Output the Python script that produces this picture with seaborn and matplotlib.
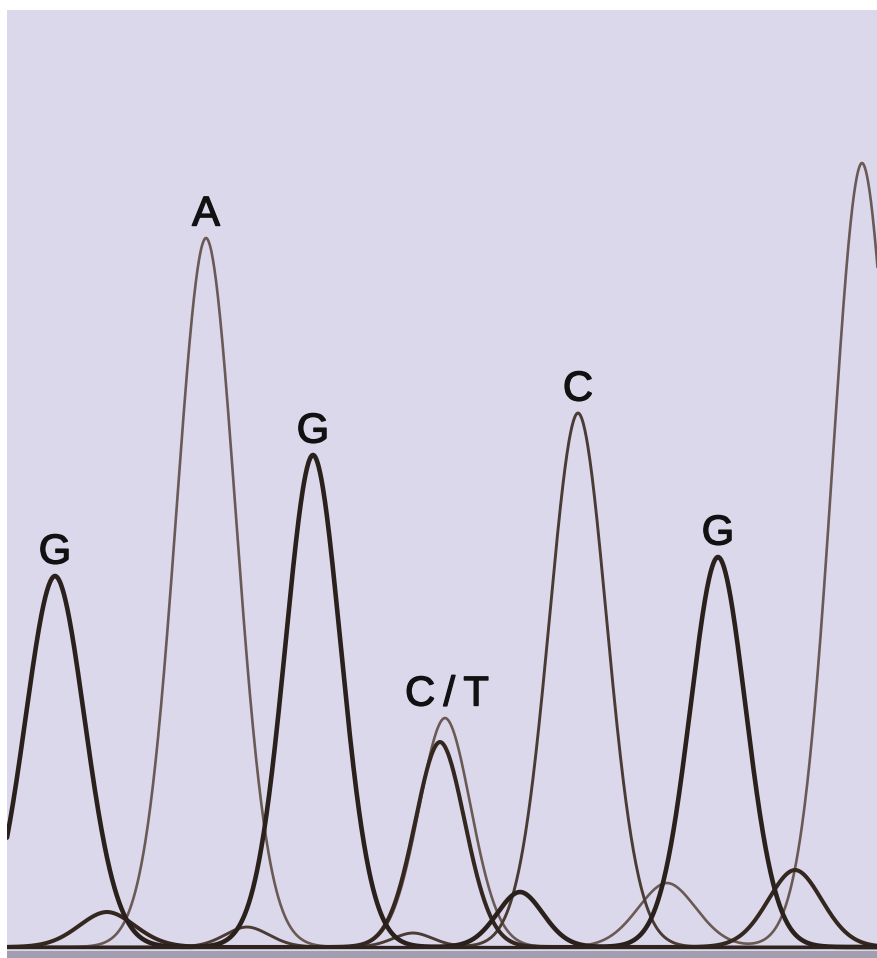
"""
Sanger sequencing trace around a C/T site, redrawn with seaborn.
Saves out.png (877x958 px).
"""

import numpy as np
import pandas as pd
import matplotlib
matplotlib.use('Agg')
import matplotlib.pyplot as plt
import matplotlib.patheffects as pe
import seaborn as sns

# ── peak calls (scan position, height, width) ─────────────────────────────────
G_POS    = [55, 313, 520, 718]
G_HEIGHT = [371, 492, 55, 390]
G_WIDTH  = [30, 28, 23, 28]

T_POS    = [107, 440, 795]
T_HEIGHT = [35, 205, 77]
T_WIDTH  = [28, 25, 27]

C_POS    = [247, 413, 578]
C_HEIGHT = [20, 14, 534]
C_WIDTH  = [22, 20, 29]

A_POS    = [206, 445, 667, 862]
A_HEIGHT = [709, 229, 64, 784]
A_WIDTH  = [30, 26, 29, 30]

# base calls printed above the peaks
CALL_TEXT = ['G', 'A', 'G', 'C\u2009/\u2009T', 'C', 'G']
CALL_POS  = [55, 206, 313, 447, 578, 718]
CALL_PEAK = [371, 709, 492, 229, 534, 390]

SCAN_START, SCAN_END = 7, 877


def trace(pos, height, width, scan):
    """Sum of peak shapes for one dye channel (slightly pointed tops)."""
    y = np.zeros_like(scan, dtype=float)
    for p, h, w in zip(pos, height, width):
        y += h * np.exp(-0.5 * np.abs((scan - p) / w) ** 1.9)
    return y


def main():
    scan = np.arange(SCAN_START, SCAN_END + 1, 0.5)

    channels = {
        'A': (A_POS, A_HEIGHT, A_WIDTH),
        'C': (C_POS, C_HEIGHT, C_WIDTH),
        'T': (T_POS, T_HEIGHT, T_WIDTH),
        'G': (G_POS, G_HEIGHT, G_WIDTH),
    }
    frames = []
    for name, (p, h, w) in channels.items():
        frames.append(pd.DataFrame({'scan': scan,
                                    'signal': trace(p, h, w, scan),
                                    'dye': name}))
    df = pd.concat(frames, ignore_index=True)

    # grey-scale print look: G heavy black, T dark, C medium, A light
    styles = {
        'A': dict(color='#6a5a55', lw=1.9),
        'C': dict(color='#4a3b35', lw=2.1),
        'T': dict(color='#33271f', lw=2.9),
        'G': dict(color='#2a201c', lw=3.3),
    }

    sns.set_style('white')
    plt.rcParams['font.family'] = ['Liberation Sans', 'DejaVu Sans']

    fig = plt.figure(figsize=(8.77, 9.58), dpi=100)
    ax = fig.add_axes([SCAN_START / 877, 0, 1 - SCAN_START / 877, 948 / 958])
    ax.set_facecolor('#dcd8eb')

    for name in ['A', 'C', 'T', 'G']:
        sub = df[df['dye'] == name]
        sns.lineplot(data=sub, x='scan', y='signal', ax=ax,
                     color=styles[name]['color'], linewidth=styles[name]['lw'],
                     solid_joinstyle='round', legend=False)

    # baseline and the strip under it
    ax.axhline(0, color='#2e231e', lw=2.4, zorder=3)
    ax.axhspan(-11, -4, color='#a39db0', lw=0, zorder=4)

    for txt, x, h in zip(CALL_TEXT, CALL_POS, CALL_PEAK):
        t = ax.annotate(txt, xy=(x, h), xytext=(0, 9), textcoords='offset points',
                        ha='center', va='baseline', fontsize=30, color='#111111')
        t.set_path_effects([pe.withStroke(linewidth=1.0, foreground='#111111')])

    ax.set_xlim(SCAN_START, SCAN_END)
    ax.set_ylim(-11, 937)
    ax.set_xlabel('')
    ax.set_ylabel('')
    ax.set_xticks([])
    ax.set_yticks([])
    for s in ax.spines.values():
        s.set_visible(False)

    fig.savefig('out.png', dpi=100, facecolor='white')
    plt.close(fig)


if __name__ == "__main__":
    main()
